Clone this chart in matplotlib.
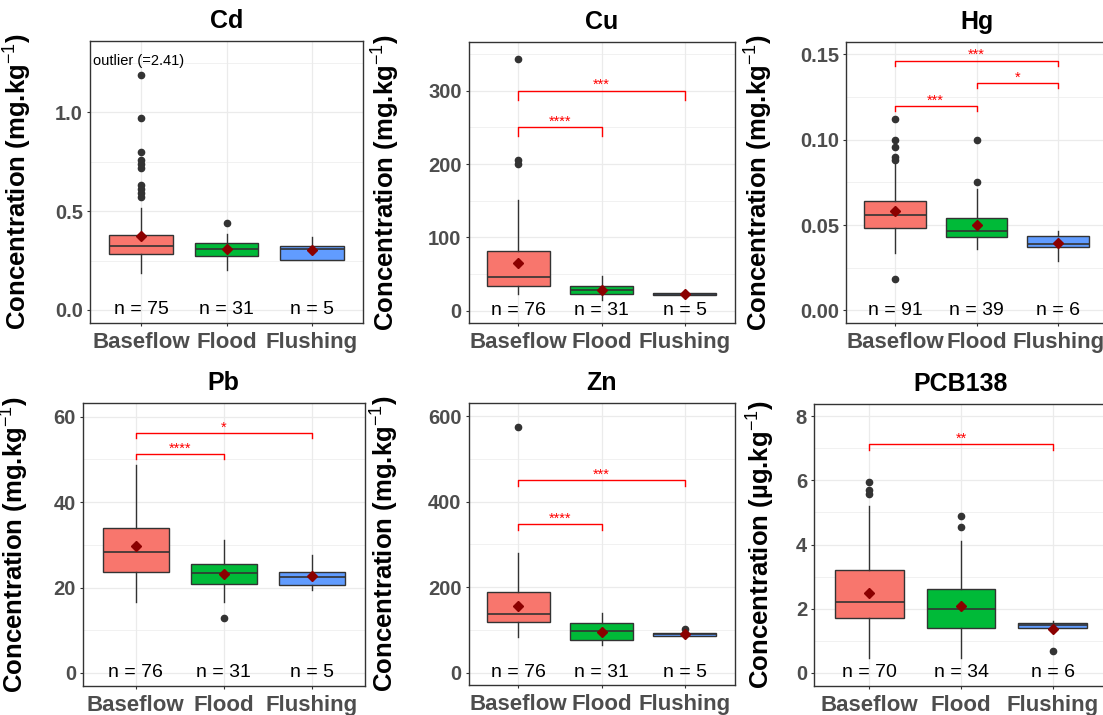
import matplotlib
matplotlib.use("Agg")
import matplotlib.pyplot as plt
from matplotlib.ticker import FixedLocator

plt.rcParams['font.family'] = ['Liberation Sans', 'DejaVu Sans']
plt.rcParams['mathtext.fontset'] = 'custom'
plt.rcParams['mathtext.rm'] = 'Liberation Sans'
plt.rcParams['mathtext.it'] = 'Liberation Sans:italic'
plt.rcParams['mathtext.bf'] = 'Liberation Sans:bold'

groups = ["Baseflow", "Flood", "Flushing"]
fills = ["#F8766D", "#00BA38", "#619CFF"]

# box statistics (per group: Baseflow, Flood, Flushing)
cd_lo = [0.185, 0.202, 0.253]
cd_q1 = [0.283, 0.273, 0.253]
cd_med = [0.323, 0.310, 0.310]
cd_q3 = [0.377, 0.340, 0.323]
cd_hi = [0.513, 0.382, 0.367]
cd_mean = [0.374, 0.306, 0.303]
cd_out = [[1.19, 0.97, 0.80, 0.76, 0.74, 0.72, 0.63, 0.61, 0.59, 0.57], [0.441], []]
cd_n = [75, 31, 5]
cd_sig = []

cu_lo = [22.7, 14.5, 20.9]
cu_q1 = [33.6, 22.7, 20.9]
cu_med = [45.5, 28.2, 22.7]
cu_q3 = [81.8, 34.0, 24.5]
cu_hi = [151, 48, 24.5]
cu_mean = [64.5, 28.6, 22.7]
cu_out = [[343.6, 205.5, 200], [], []]
cu_n = [76, 31, 5]
cu_sig = [(1, 2, 250, 12, "****"), (1, 3, 300, 12, "***")]

hg_lo = [0.0338, 0.0357, 0.0289]
hg_q1 = [0.048, 0.0432, 0.0369]
hg_med = [0.056, 0.0467, 0.039]
hg_q3 = [0.0639, 0.0541, 0.0434]
hg_hi = [0.086, 0.0709, 0.0463]
hg_mean = [0.0582, 0.050, 0.0393]
hg_out = [[0.112, 0.100, 0.0957, 0.0898, 0.0883, 0.0186], [0.100, 0.0752], []]
hg_n = [91, 39, 6]
hg_sig = [(1, 2, 0.1195, 0.0025, "***"), (2, 3, 0.1332, 0.0027, "*"),
          (1, 3, 0.1463, 0.0031, "***")]

pb_lo = [16.7, 16.7, 19.5]
pb_q1 = [23.75, 20.8, 20.5]
pb_med = [28.4, 23.4, 22.4]
pb_q3 = [33.9, 25.6, 23.6]
pb_hi = [48.6, 31.2, 27.7]
pb_mean = [29.7, 23.2, 22.7]
pb_out = [[], [12.8], []]
pb_n = [76, 31, 5]
pb_sig = [(1, 2, 51.25, 1.1, "****"), (1, 3, 56.2, 1.2, "*")]

zn_lo = [84, 65, 85]
zn_q1 = [118, 76.6, 86]
zn_med = [138, 97.6, 90]
zn_q3 = [188, 115.6, 93]
zn_hi = [280, 140.6, 94]
zn_mean = [157, 96, 90]
zn_out = [[576], [], [102]]
zn_n = [76, 31, 5]
zn_sig = [(1, 2, 348, 14, "****"), (1, 3, 450, 14, "***")]

pcb_lo = [0.48, 0.48, 1.39]
pcb_q1 = [1.70, 1.39, 1.39]
pcb_med = [2.22, 1.99, 1.48]
pcb_q3 = [3.21, 2.61, 1.55]
pcb_hi = [5.19, 4.10, 1.63]
pcb_mean = [2.48, 2.10, 1.36]
pcb_out = [[5.94, 5.71, 5.57], [4.90, 4.56], [0.69]]
pcb_n = [70, 34, 6]
pcb_sig = [(1, 3, 7.13, 0.18, "**")]

mg = r"Concentration (mg.kg$^{-1}$)"
ug = r"Concentration (µg.kg$^{-1}$)"

panels = [
    ("Cd", mg, cd_lo, cd_q1, cd_med, cd_q3, cd_hi, cd_mean, cd_out, cd_n, cd_sig),
    ("Cu", mg, cu_lo, cu_q1, cu_med, cu_q3, cu_hi, cu_mean, cu_out, cu_n, cu_sig),
    ("Hg", mg, hg_lo, hg_q1, hg_med, hg_q3, hg_hi, hg_mean, hg_out, hg_n, hg_sig),
    ("Pb", mg, pb_lo, pb_q1, pb_med, pb_q3, pb_hi, pb_mean, pb_out, pb_n, pb_sig),
    ("Zn", mg, zn_lo, zn_q1, zn_med, zn_q3, zn_hi, zn_mean, zn_out, zn_n, zn_sig),
    ("PCB138", ug, pcb_lo, pcb_q1, pcb_med, pcb_q3, pcb_hi, pcb_mean, pcb_out, pcb_n, pcb_sig),
]

# layout in pixels: left, top, right, bottom, ylabel x, ylim, ticks, tick format
W, H = 1103, 715
layout = [
    (90, 41, 363, 323, 34, (-0.066, 1.36), [0, 0.5, 1.0], "{:.1f}"),
    (468.5, 42, 734.5, 323, 402, (-16.8, 366.6), [0, 100, 200, 300], "{:.0f}"),
    (846, 42, 1107, 323, 775, (-0.0074, 0.1572), [0, 0.05, 0.10, 0.15], "{:.2f}"),
    (83, 403, 364.6, 686, 31, (-3.05, 63.2), [0, 20, 40, 60], "{:.0f}"),
    (468.5, 403, 734.5, 685, 401, (-29, 631), [0, 200, 400, 600], "{:.0f}"),
    (814, 404, 1108, 686, 777, (-0.405, 8.38), [0, 2, 4, 6, 8], "{:.0f}"),
]

fig = plt.figure(figsize=(W / 100, H / 100), dpi=100)
dark = "#333333"

for p, lay in zip(panels, layout):
    title, ylab, lo, q1, med, q3, hi, mean, out, n, sig = p
    l, t, r, b, ylx, ylim, ticks, fmt = lay
    ax = fig.add_axes([l / W, 1 - b / H, (r - l) / W, (b - t) / H])

    stats = []
    for i in range(3):
        stats.append(dict(whislo=lo[i], q1=q1[i], med=med[i], q3=q3[i],
                          whishi=hi[i], fliers=out[i]))
    bp = ax.bxp(stats, positions=[1, 2, 3], widths=0.75, patch_artist=True,
                showcaps=False,
                boxprops=dict(edgecolor=dark, linewidth=1.0),
                medianprops=dict(color=dark, linewidth=1.2),
                whiskerprops=dict(color=dark, linewidth=1.0),
                flierprops=dict(marker="o", markerfacecolor=dark,
                                markeredgecolor=dark, markersize=4.5))
    for patch, c in zip(bp["boxes"], fills):
        patch.set_facecolor(c)
    ax.plot([1, 2, 3], mean, linestyle="none", marker="D", markersize=5.5,
            color="#8B0000", zorder=4)

    for x1, x2, y, tip, lab in sig:
        ax.plot([x1, x1, x2, x2], [y - tip, y, y, y - tip], color="red",
                linewidth=1.0, zorder=3)
        ax.annotate(lab, ((x1 + x2) / 2, y), xytext=(0, -1),
                    textcoords="offset points", ha="center", va="bottom",
                    color="red", fontsize=10.5)

    for i in range(3):
        ax.text(i + 1, 0, "n = %d" % n[i], ha="center", va="center",
                fontsize=14, color="black")

    if title == "Cd":
        ax.text(0.435, 1.257, "outlier (=2.41)", ha="left", va="center",
                fontsize=10.5, color="black")

    ax.set_xlim(0.4, 3.6)
    ax.set_ylim(*ylim)
    ax.set_xticks([1, 2, 3])
    ax.set_xticklabels(groups)
    ax.yaxis.set_major_locator(FixedLocator(ticks))
    ax.set_yticklabels([fmt.format(v) for v in ticks])
    step = ticks[1] - ticks[0]
    minor = [v + step / 2 for v in [ticks[0] - step] + ticks]
    ax.yaxis.set_minor_locator(FixedLocator(minor))

    ax.set_axisbelow(True)
    ax.grid(True, which="major", color="#EBEBEB", linewidth=0.9)
    ax.grid(True, which="minor", axis="y", color="#EBEBEB", linewidth=0.5)
    ax.tick_params(axis="both", which="major", color=dark, length=2.5,
                   width=0.8, labelcolor="#4D4D4D")
    ax.tick_params(axis="y", which="minor", length=0)
    ax.tick_params(axis="x", pad=4, labelsize=16)
    ax.tick_params(axis="y", pad=2.5, labelsize=14.5)
    for lbl in ax.get_xticklabels() + ax.get_yticklabels():
        lbl.set_fontweight("bold")
    for s in ax.spines.values():
        s.set_color(dark)
        s.set_linewidth(1.0)

    ax.set_title(title, fontsize=18, fontweight="bold", pad=9.5)
    ax.set_ylabel(ylab, fontsize=18.5, fontweight="bold")
    ax.yaxis.set_label_coords((ylx - l) / (r - l), 0.5)

fig.savefig("out.png", dpi=100)
